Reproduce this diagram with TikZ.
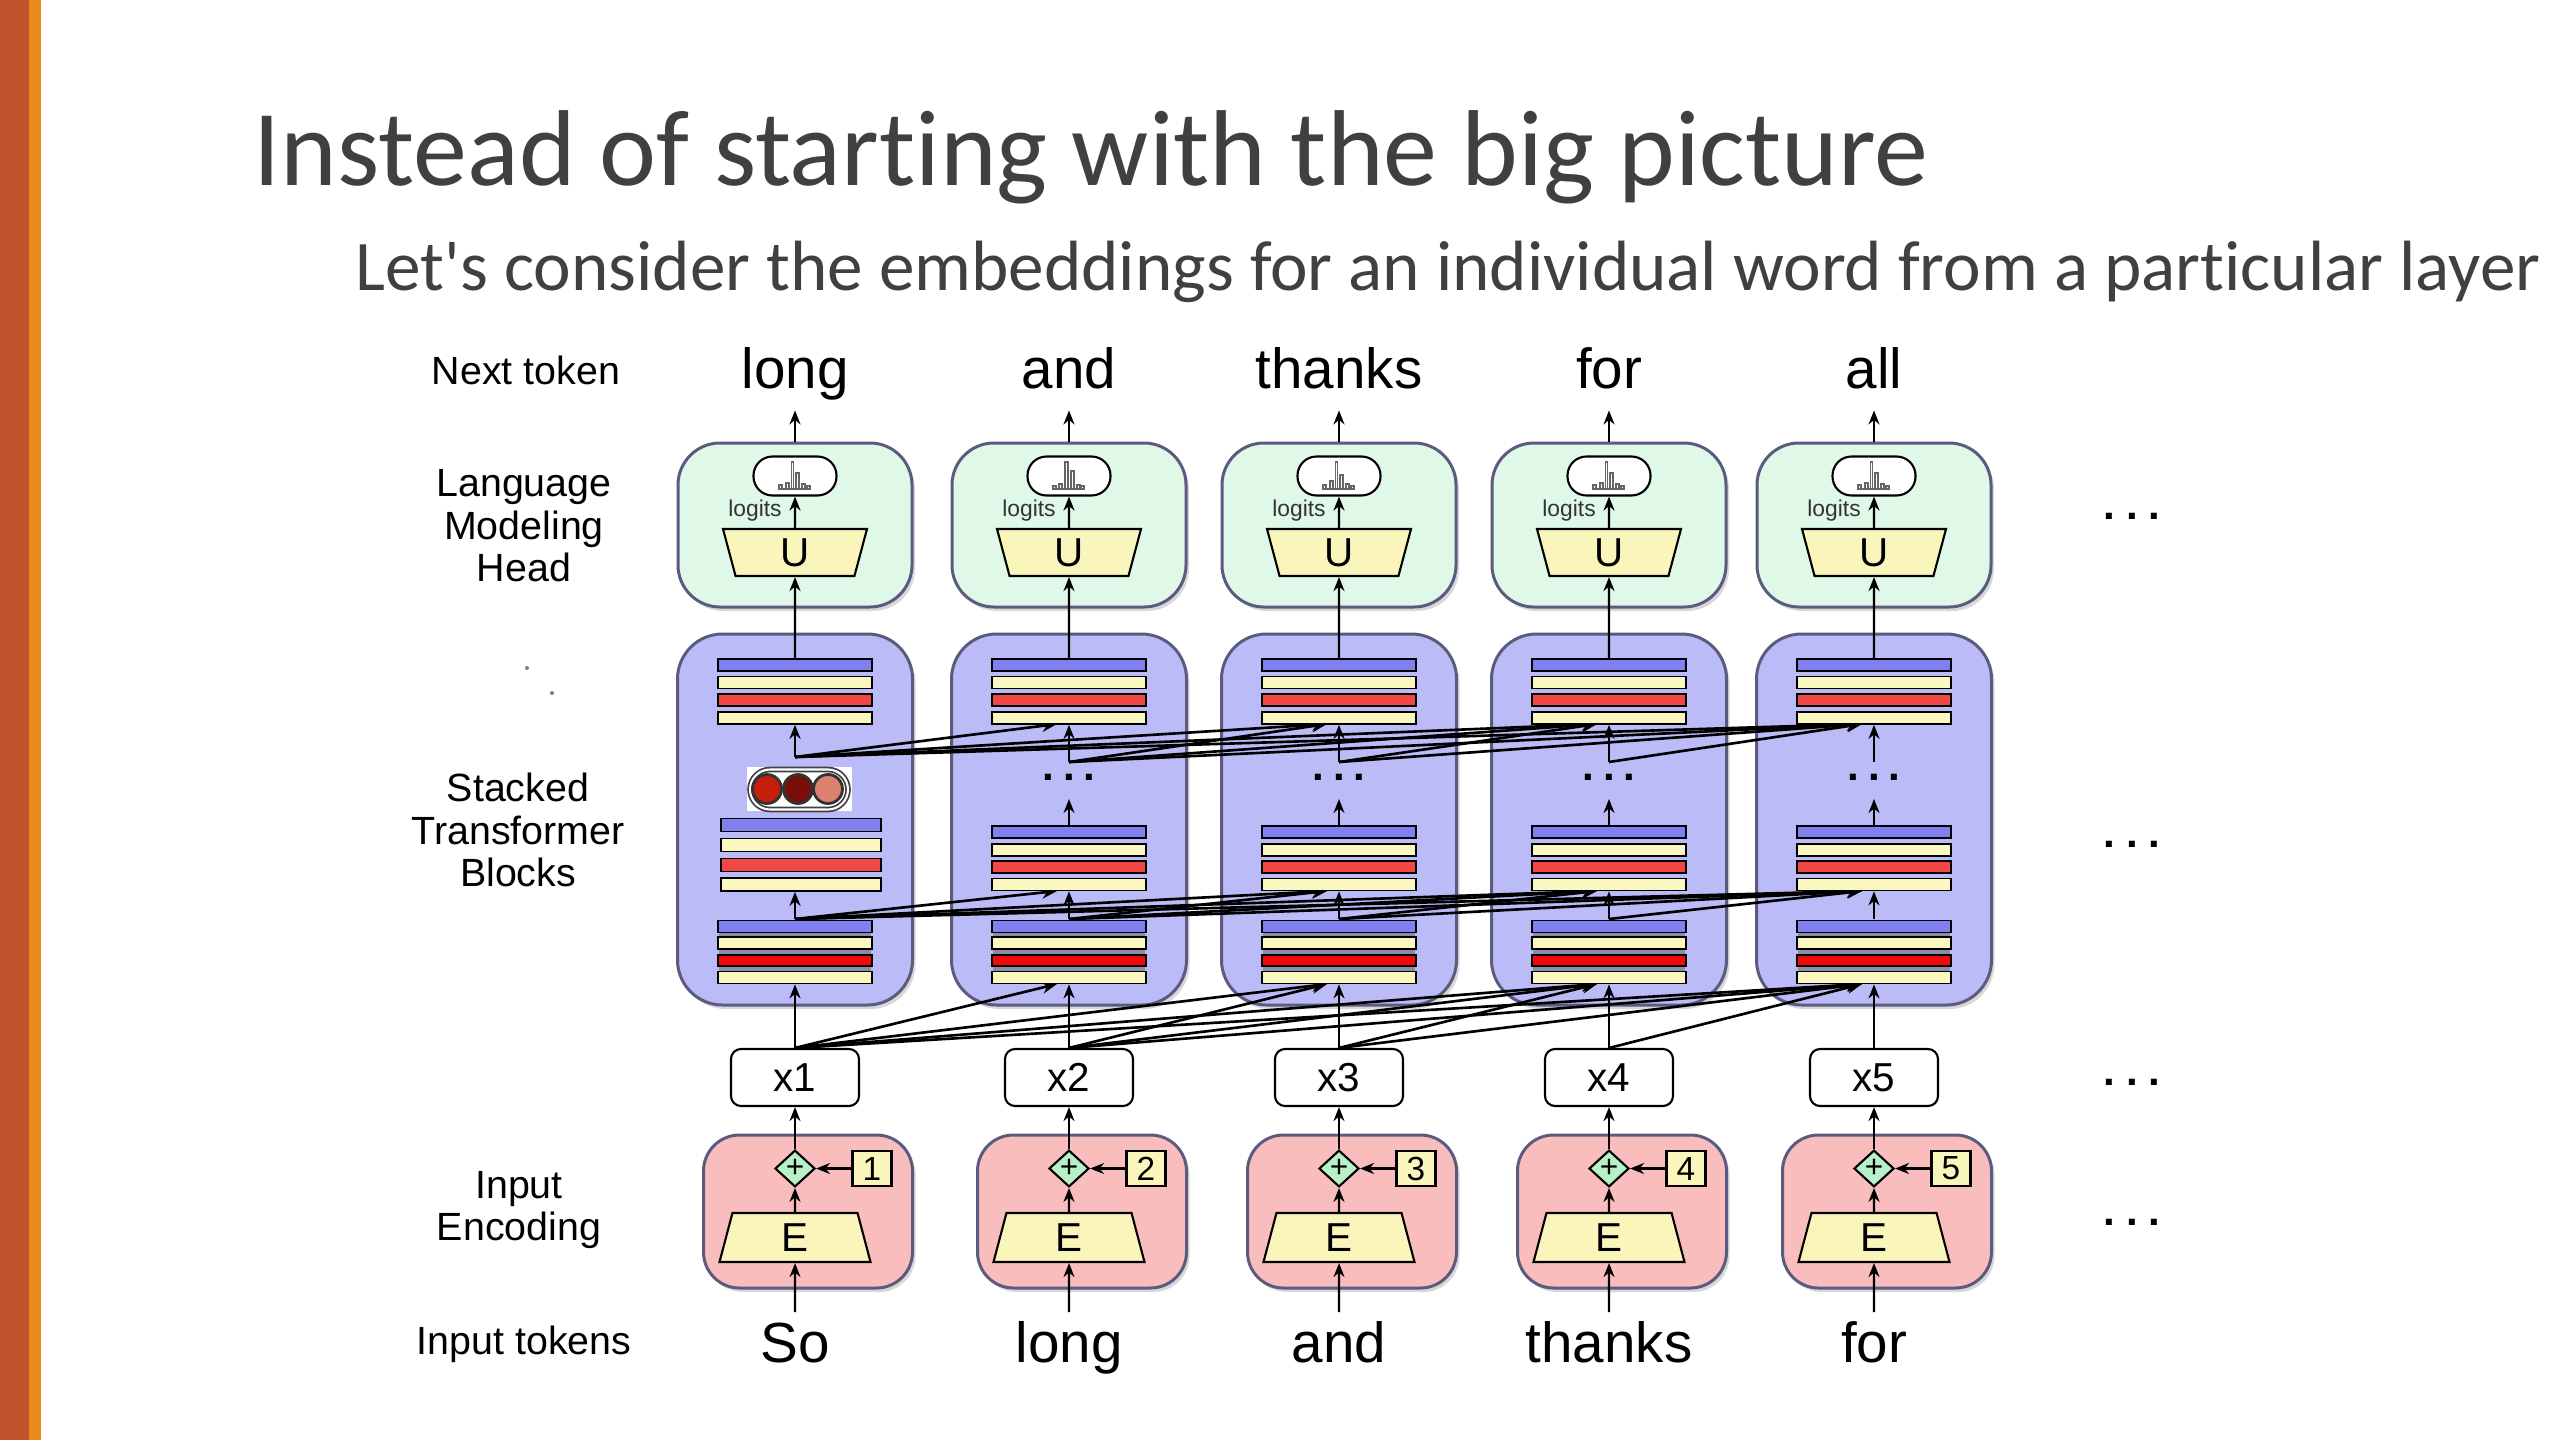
\documentclass[tikz,border=0pt]{standalone}
\usepackage{fontspec}
\setmainfont{Liberation Sans}
\newfontfamily\slidefont[Ligatures=NoCommon]{Carlito}
\usetikzlibrary{backgrounds,shapes.geometric,shadows,arrows.meta}
\pgfdeclarelayer{boxlayer}
\pgfdeclarelayer{edgelayer}
\pgfdeclarelayer{nodelayer}
\pgfsetlayers{boxlayer,edgelayer,nodelayer,main}
\definecolor{slidegrey}{HTML}{404040}
\definecolor{barrust}{HTML}{C0532B}
\definecolor{barorange}{HTML}{E98A1B}
\definecolor{headgreen}{HTML}{DFF8E7}
\definecolor{stackblue}{HTML}{BBBBF8}
\definecolor{inpink}{HTML}{F9BDBD}
\definecolor{boxedge}{HTML}{5B5B80}
\definecolor{barblue}{HTML}{8080F0}
\definecolor{baryellow}{HTML}{FAF7C0}
\definecolor{barred}{HTML}{F24747}
\definecolor{bardeepred}{HTML}{F00A0A}
\definecolor{bargrey}{HTML}{8C8CA8}
\definecolor{trapyellow}{HTML}{FAF6BB}
\definecolor{addgreen}{HTML}{B8F0C8}
\definecolor{circred}{HTML}{C81E0E}
\definecolor{circdark}{HTML}{7A0E08}
\definecolor{circpale}{HTML}{DB8370}
\tikzstyle{none}=[inner sep=0pt]
\tikzstyle{slidetitle}=[inner sep=0pt, text=slidegrey, font=\slidefont\fontsize{30.7}{34}\selectfont]
\tikzstyle{subtitle}=[inner sep=0pt, text=slidegrey, font=\slidefont\fontsize{20.25}{24}\selectfont]
\tikzstyle{rowlabel}=[inner sep=0pt, align=center, font=\fontsize{11.2}{12.1}\selectfont]
\tikzstyle{token}=[inner sep=0pt, font=\fontsize{16.1}{18}\selectfont]
\tikzstyle{ellip}=[inner sep=0pt, font=\bfseries\fontsize{12}{12}\selectfont]
\tikzstyle{speck}=[circle, fill=gray, inner sep=0pt, minimum size=0.04cm]
\tikzstyle{shade}=[drop shadow={shadow xshift=0.03cm, shadow yshift=-0.04cm, opacity=0.3}]
\tikzstyle{headbox}=[rectangle, rounded corners=0.42cm, draw=boxedge, line width=0.85pt, fill=headgreen, minimum width=2.34cm, minimum height=1.64cm, shade]
\tikzstyle{stackbox}=[rectangle, rounded corners=0.45cm, draw=boxedge, line width=0.85pt, fill=stackblue, minimum width=2.35cm, minimum height=3.71cm, shade]
\tikzstyle{inbox}=[rectangle, rounded corners=0.36cm, draw=boxedge, line width=0.85pt, fill=inpink, minimum width=2.09cm, minimum height=1.53cm, shade]
\tikzstyle{pill}=[rectangle, rounded corners=0.19cm, draw=black, line width=0.6pt, fill=white, minimum width=0.83cm, minimum height=0.39cm]
\tikzstyle{histo}=[draw=black!60, line width=0.3pt]
\tikzstyle{logits}=[inner sep=0pt, text=black!80, font=\fontsize{6.5}{7}\selectfont]
\tikzstyle{unembed}=[trapezium, trapezium stretches body, trapezium angle=66, shape border rotate=180, draw=black, line width=0.6pt, fill=trapyellow, inner sep=0pt, minimum width=1.44cm, minimum height=0.47cm, font=\fontsize{11.5}{11.5}\selectfont]
\tikzstyle{embed}=[trapezium, trapezium stretches body, trapezium angle=65, draw=black, line width=0.6pt, fill=trapyellow, inner sep=0pt, minimum width=1.51cm, minimum height=0.49cm, font=\fontsize{11.5}{11.5}\selectfont]
\tikzstyle{bar}=[rectangle, draw=black, line width=0.5pt, inner sep=0pt, minimum width=1.54cm, minimum height=0.12cm]
\tikzstyle{bluebar}=[bar, fill=barblue]
\tikzstyle{yellowbar}=[bar, fill=baryellow]
\tikzstyle{redbar}=[bar, fill=barred]
\tikzstyle{deepredbar}=[bar, fill=bardeepred, minimum height=0.11cm]
\tikzstyle{greybar}=[rectangle, fill=bargrey, inner sep=0pt, minimum width=1.52cm, minimum height=0.6cm]
\tikzstyle{widebar}=[minimum width=1.6cm, minimum height=0.13cm]
\tikzstyle{circbg}=[rectangle, fill=white, inner sep=0pt, minimum width=1.05cm, minimum height=0.44cm]
\tikzstyle{circpill}=[rectangle, rounded corners=0.2cm, draw=black!75, double=white, double distance=0.6pt, line width=0.5pt, inner sep=0pt, minimum width=0.98cm, minimum height=0.40cm]
\tikzstyle{circa}=[circle, draw=black!80, line width=0.8pt, fill=circred, inner sep=0pt, minimum size=0.29cm]
\tikzstyle{circb}=[circa, fill=circdark]
\tikzstyle{circc}=[circa, fill=circpale]
\tikzstyle{xbox}=[rectangle, rounded corners=0.1cm, draw=black, line width=0.6pt, fill=white, minimum width=1.28cm, minimum height=0.57cm, font=\fontsize{11.5}{11.5}\selectfont]
\tikzstyle{addnode}=[diamond, draw=black, line width=0.6pt, fill=addgreen, inner sep=0pt, minimum width=0.40cm, minimum height=0.33cm, font=\fontsize{9}{9}\selectfont]
\tikzstyle{posbox}=[rectangle, draw=black, line width=0.6pt, fill=trapyellow, inner sep=0pt, minimum width=0.39cm, minimum height=0.35cm, font=\fontsize{9.5}{9.5}\selectfont]
\tikzstyle{flow}=[-{Stealth[length=1.4mm, width=1.1mm]}, line width=0.6pt]
\tikzstyle{attn}=[-{Stealth[length=1.5mm, width=1.2mm]}, line width=0.75pt]

\begin{document}
\begin{tikzpicture}
	\useasboundingbox (0, 0) rectangle (25.6, -14.4);
	\begin{pgfonlayer}{boxlayer}
		\fill [white] (0, 0) rectangle (25.6, -14.4);
		\fill [barrust] (0, 0) rectangle (0.29, -14.4);
		\fill [barorange] (0.29, 0) rectangle (0.41, -14.4);
		\node [style=headbox] (102) at (7.95, -5.25) {};
		\node [style=headbox] (202) at (10.69, -5.25) {};
		\node [style=headbox] (302) at (13.39, -5.25) {};
		\node [style=headbox] (402) at (16.09, -5.25) {};
		\node [style=headbox] (502) at (18.74, -5.25) {};
		\node [style=stackbox] (106) at (7.95, -8.195) {};
		\node [style=stackbox] (206) at (10.69, -8.195) {};
		\node [style=stackbox] (306) at (13.39, -8.195) {};
		\node [style=stackbox] (406) at (16.09, -8.195) {};
		\node [style=stackbox] (506) at (18.74, -8.195) {};
		\node [style=inbox] (125) at (8.08, -12.115) {};
		\node [style=inbox] (225) at (10.82, -12.115) {};
		\node [style=inbox] (325) at (13.52, -12.115) {};
		\node [style=inbox] (425) at (16.22, -12.115) {};
		\node [style=inbox] (525) at (18.87, -12.115) {};
	\end{pgfonlayer}
	\begin{pgfonlayer}{nodelayer}
		\node [style=slidetitle, anchor=base west] (0) at (2.53, -1.85) {Instead of starting with the big picture};
		\node [style=subtitle, anchor=base west] (1) at (3.55, -2.9) {Let's consider the embeddings for an individual word from a particular layer};
		\node [style=rowlabel] (2) at (5.26, -3.7) {Next token};
		\node [style=rowlabel] (3) at (5.24, -5.26) {Language\\Modeling\\Head};
		\node [style=rowlabel] (4) at (5.18, -8.3) {Stacked\\Transformer\\Blocks};
		\node [style=rowlabel] (5) at (5.19, -12.1) {Input\\Encoding};
		\node [style=rowlabel] (6) at (5.24, -13.44) {Input tokens};
		\node [style=speck] (7) at (5.27, -6.68) {};
		\node [style=speck] (8) at (5.52, -6.93) {};
		\node [style=ellip, anchor=base] (9) at (21.32, -5.19) {.\hspace{1.1mm}.\hspace{1.1mm}.};
		\node [style=ellip, anchor=base] (10) at (21.32, -8.47) {.\hspace{1.1mm}.\hspace{1.1mm}.};
		\node [style=ellip, anchor=base] (11) at (21.32, -10.85) {.\hspace{1.1mm}.\hspace{1.1mm}.};
		\node [style=ellip, anchor=base] (12) at (21.32, -12.25) {.\hspace{1.1mm}.\hspace{1.1mm}.};

		\node [style=token, anchor=base] (100) at (7.95, -3.88) {long};
		\node [style=none] (101) at (7.95, -4.08) {};
		\node [style=pill] (103) at (7.95, -4.76) {};
		\node [style=logits] (104) at (7.55, -5.11) {logits};
		\node [style=unembed] (105) at (7.95, -5.525) {U};
		\node [style=bluebar] (107) at (7.95, -6.65) {};
		\node [style=yellowbar] (108) at (7.95, -6.825) {};
		\node [style=redbar] (109) at (7.95, -7) {};
		\node [style=yellowbar] (110) at (7.95, -7.18) {};
		\node [style=bluebar, style=widebar] (111) at (8.01, -8.25) {};
		\node [style=yellowbar, style=widebar] (112) at (8.01, -8.45) {};
		\node [style=redbar, style=widebar] (113) at (8.01, -8.65) {};
		\node [style=yellowbar, style=widebar] (114) at (8.01, -8.845) {};
		\node [style=greybar] (115) at (7.95, -9.525) {};
		\node [style=bluebar] (116) at (7.95, -9.265) {};
		\node [style=yellowbar] (117) at (7.95, -9.43) {};
		\node [style=deepredbar] (118) at (7.95, -9.605) {};
		\node [style=yellowbar] (119) at (7.95, -9.775) {};
		\node [style=none] (120) at (7.95, -7.57) {};
		\node [style=circbg] (121) at (7.995, -7.89) {};
		\node [style=circpill] (134) at (7.99, -7.895) {};
		\node [style=circa] (135) at (7.67, -7.89) {};
		\node [style=circb] (136) at (7.98, -7.89) {};
		\node [style=circc] (137) at (8.28, -7.89) {};
		\node [style=none] (123) at (7.95, -9.19) {};
		\node [style=xbox] (124) at (7.95, -10.775) {x1};
		\node [style=addnode] (126) at (7.95, -11.685) {+};
		\node [style=posbox] (127) at (8.72, -11.685) {1};
		\node [style=embed] (128) at (7.95, -12.375) {E};
		\node [style=token, anchor=base] (129) at (7.95, -13.62) {So};
		\node [style=none] (130) at (7.95, -13.12) {};

		\node [style=token, anchor=base] (200) at (10.69, -3.88) {and};
		\node [style=none] (201) at (10.69, -4.08) {};
		\node [style=pill] (203) at (10.69, -4.76) {};
		\node [style=logits] (204) at (10.29, -5.11) {logits};
		\node [style=unembed] (205) at (10.69, -5.525) {U};
		\node [style=bluebar] (207) at (10.69, -6.65) {};
		\node [style=yellowbar] (208) at (10.69, -6.825) {};
		\node [style=redbar] (209) at (10.69, -7) {};
		\node [style=yellowbar] (210) at (10.69, -7.18) {};
		\node [style=bluebar] (211) at (10.69, -8.32) {};
		\node [style=yellowbar] (212) at (10.69, -8.5) {};
		\node [style=redbar] (213) at (10.69, -8.67) {};
		\node [style=yellowbar] (214) at (10.69, -8.845) {};
		\node [style=greybar] (215) at (10.69, -9.525) {};
		\node [style=bluebar] (216) at (10.69, -9.265) {};
		\node [style=yellowbar] (217) at (10.69, -9.43) {};
		\node [style=deepredbar] (218) at (10.69, -9.605) {};
		\node [style=yellowbar] (219) at (10.69, -9.775) {};
		\node [style=none] (220) at (10.69, -7.62) {};
		\node [style=ellip, anchor=base] (221) at (10.69, -7.8) {.\hspace{0.9mm}.\hspace{0.9mm}.};
		\node [style=none] (222) at (10.69, -7.99) {};
		\node [style=none] (223) at (10.69, -9.19) {};
		\node [style=xbox] (224) at (10.69, -10.775) {x2};
		\node [style=addnode] (226) at (10.69, -11.685) {+};
		\node [style=posbox] (227) at (11.46, -11.685) {2};
		\node [style=embed] (228) at (10.69, -12.375) {E};
		\node [style=token, anchor=base] (229) at (10.69, -13.62) {long};
		\node [style=none] (230) at (10.69, -13.12) {};
		\node [style=none] (231) at (10.57, -9.84) {};
		\node [style=none] (232) at (10.57, -8.91) {};
		\node [style=none] (233) at (10.57, -7.24) {};

		\node [style=token, anchor=base] (300) at (13.39, -3.88) {thanks};
		\node [style=none] (301) at (13.39, -4.08) {};
		\node [style=pill] (303) at (13.39, -4.76) {};
		\node [style=logits] (304) at (12.99, -5.11) {logits};
		\node [style=unembed] (305) at (13.39, -5.525) {U};
		\node [style=bluebar] (307) at (13.39, -6.65) {};
		\node [style=yellowbar] (308) at (13.39, -6.825) {};
		\node [style=redbar] (309) at (13.39, -7) {};
		\node [style=yellowbar] (310) at (13.39, -7.18) {};
		\node [style=bluebar] (311) at (13.39, -8.32) {};
		\node [style=yellowbar] (312) at (13.39, -8.5) {};
		\node [style=redbar] (313) at (13.39, -8.67) {};
		\node [style=yellowbar] (314) at (13.39, -8.845) {};
		\node [style=greybar] (315) at (13.39, -9.525) {};
		\node [style=bluebar] (316) at (13.39, -9.265) {};
		\node [style=yellowbar] (317) at (13.39, -9.43) {};
		\node [style=deepredbar] (318) at (13.39, -9.605) {};
		\node [style=yellowbar] (319) at (13.39, -9.775) {};
		\node [style=none] (320) at (13.39, -7.62) {};
		\node [style=ellip, anchor=base] (321) at (13.39, -7.8) {.\hspace{0.9mm}.\hspace{0.9mm}.};
		\node [style=none] (322) at (13.39, -7.99) {};
		\node [style=none] (323) at (13.39, -9.19) {};
		\node [style=xbox] (324) at (13.39, -10.775) {x3};
		\node [style=addnode] (326) at (13.39, -11.685) {+};
		\node [style=posbox] (327) at (14.16, -11.685) {3};
		\node [style=embed] (328) at (13.39, -12.375) {E};
		\node [style=token, anchor=base] (329) at (13.39, -13.62) {and};
		\node [style=none] (330) at (13.39, -13.12) {};
		\node [style=none] (331) at (13.27, -9.84) {};
		\node [style=none] (332) at (13.27, -8.91) {};
		\node [style=none] (333) at (13.27, -7.24) {};

		\node [style=token, anchor=base] (400) at (16.09, -3.88) {for};
		\node [style=none] (401) at (16.09, -4.08) {};
		\node [style=pill] (403) at (16.09, -4.76) {};
		\node [style=logits] (404) at (15.69, -5.11) {logits};
		\node [style=unembed] (405) at (16.09, -5.525) {U};
		\node [style=bluebar] (407) at (16.09, -6.65) {};
		\node [style=yellowbar] (408) at (16.09, -6.825) {};
		\node [style=redbar] (409) at (16.09, -7) {};
		\node [style=yellowbar] (410) at (16.09, -7.18) {};
		\node [style=bluebar] (411) at (16.09, -8.32) {};
		\node [style=yellowbar] (412) at (16.09, -8.5) {};
		\node [style=redbar] (413) at (16.09, -8.67) {};
		\node [style=yellowbar] (414) at (16.09, -8.845) {};
		\node [style=greybar] (415) at (16.09, -9.525) {};
		\node [style=bluebar] (416) at (16.09, -9.265) {};
		\node [style=yellowbar] (417) at (16.09, -9.43) {};
		\node [style=deepredbar] (418) at (16.09, -9.605) {};
		\node [style=yellowbar] (419) at (16.09, -9.775) {};
		\node [style=none] (420) at (16.09, -7.62) {};
		\node [style=ellip, anchor=base] (421) at (16.09, -7.8) {.\hspace{0.9mm}.\hspace{0.9mm}.};
		\node [style=none] (422) at (16.09, -7.99) {};
		\node [style=none] (423) at (16.09, -9.19) {};
		\node [style=xbox] (424) at (16.09, -10.775) {x4};
		\node [style=addnode] (426) at (16.09, -11.685) {+};
		\node [style=posbox] (427) at (16.86, -11.685) {4};
		\node [style=embed] (428) at (16.09, -12.375) {E};
		\node [style=token, anchor=base] (429) at (16.09, -13.62) {thanks};
		\node [style=none] (430) at (16.09, -13.12) {};
		\node [style=none] (431) at (15.97, -9.84) {};
		\node [style=none] (432) at (15.97, -8.91) {};
		\node [style=none] (433) at (15.97, -7.24) {};

		\node [style=token, anchor=base] (500) at (18.74, -3.88) {all};
		\node [style=none] (501) at (18.74, -4.08) {};
		\node [style=pill] (503) at (18.74, -4.76) {};
		\node [style=logits] (504) at (18.34, -5.11) {logits};
		\node [style=unembed] (505) at (18.74, -5.525) {U};
		\node [style=bluebar] (507) at (18.74, -6.65) {};
		\node [style=yellowbar] (508) at (18.74, -6.825) {};
		\node [style=redbar] (509) at (18.74, -7) {};
		\node [style=yellowbar] (510) at (18.74, -7.18) {};
		\node [style=bluebar] (511) at (18.74, -8.32) {};
		\node [style=yellowbar] (512) at (18.74, -8.5) {};
		\node [style=redbar] (513) at (18.74, -8.67) {};
		\node [style=yellowbar] (514) at (18.74, -8.845) {};
		\node [style=greybar] (515) at (18.74, -9.525) {};
		\node [style=bluebar] (516) at (18.74, -9.265) {};
		\node [style=yellowbar] (517) at (18.74, -9.43) {};
		\node [style=deepredbar] (518) at (18.74, -9.605) {};
		\node [style=yellowbar] (519) at (18.74, -9.775) {};
		\node [style=none] (520) at (18.74, -7.62) {};
		\node [style=ellip, anchor=base] (521) at (18.74, -7.8) {.\hspace{0.9mm}.\hspace{0.9mm}.};
		\node [style=none] (522) at (18.74, -7.99) {};
		\node [style=none] (523) at (18.74, -9.19) {};
		\node [style=xbox] (524) at (18.74, -10.775) {x5};
		\node [style=addnode] (526) at (18.74, -11.685) {+};
		\node [style=posbox] (527) at (19.51, -11.685) {5};
		\node [style=embed] (528) at (18.74, -12.375) {E};
		\node [style=token, anchor=base] (529) at (18.74, -13.62) {for};
		\node [style=none] (530) at (18.74, -13.12) {};
		\node [style=none] (531) at (18.62, -9.84) {};
		\node [style=none] (532) at (18.62, -8.91) {};
		\node [style=none] (533) at (18.62, -7.24) {};

		% little logit histograms
		\draw [style=histo, shift={(7.95, -4.76)}] (-0.17, -0.13) -- (0.16, -0.13) (-0.16, -0.13) -- (-0.16, -0.09) -- (-0.13, -0.09) -- (-0.13, -0.13) (-0.09, -0.13) -- (-0.09, -0.07) -- (-0.06, -0.07) -- (-0.06, -0.13) (-0.035, -0.13) -- (-0.035, 0.14) -- (-0.015, 0.14) -- (-0.015, -0.13) (0.01, -0.13) -- (0.01, 0.03) -- (0.04, 0.03) -- (0.04, -0.13) (0.07, -0.13) -- (0.07, -0.08) -- (0.1, -0.08) -- (0.1, -0.13) (0.12, -0.13) -- (0.12, -0.1) -- (0.15, -0.1) -- (0.15, -0.13);
		\draw [style=histo, shift={(10.69, -4.76)}] (-0.17, -0.13) -- (0.16, -0.13) (-0.16, -0.13) -- (-0.16, -0.1) -- (-0.13, -0.1) -- (-0.13, -0.13) (-0.1, -0.13) -- (-0.1, -0.08) -- (-0.07, -0.08) -- (-0.07, -0.13) (-0.04, -0.13) -- (-0.04, 0.14) -- (-0.01, 0.14) -- (-0.01, -0.13) (0.02, -0.13) -- (0.02, 0.05) -- (0.05, 0.05) -- (0.05, -0.13) (0.08, -0.13) -- (0.08, -0.09) -- (0.11, -0.09) -- (0.11, -0.13) (0.12, -0.13) -- (0.12, -0.1) -- (0.15, -0.1) -- (0.15, -0.13);
		\draw [style=histo, shift={(13.39, -4.76)}] (-0.17, -0.13) -- (0.16, -0.13) (-0.16, -0.13) -- (-0.16, -0.09) -- (-0.13, -0.09) -- (-0.13, -0.13) (-0.09, -0.13) -- (-0.09, -0.05) -- (-0.06, -0.05) -- (-0.06, -0.13) (-0.035, -0.13) -- (-0.035, 0.14) -- (-0.015, 0.14) -- (-0.015, -0.13) (0.01, -0.13) -- (0.01, 0.01) -- (0.04, 0.01) -- (0.04, -0.13) (0.07, -0.13) -- (0.07, -0.08) -- (0.1, -0.08) -- (0.1, -0.13) (0.12, -0.13) -- (0.12, -0.1) -- (0.15, -0.1) -- (0.15, -0.13);
		\draw [style=histo, shift={(16.09, -4.76)}] (-0.17, -0.13) -- (0.16, -0.13) (-0.16, -0.13) -- (-0.16, -0.09) -- (-0.13, -0.09) -- (-0.13, -0.13) (-0.09, -0.13) -- (-0.09, -0.07) -- (-0.06, -0.07) -- (-0.06, -0.13) (-0.035, -0.13) -- (-0.035, 0.14) -- (-0.015, 0.14) -- (-0.015, -0.13) (0.01, -0.13) -- (0.01, 0.03) -- (0.04, 0.03) -- (0.04, -0.13) (0.07, -0.13) -- (0.07, -0.08) -- (0.1, -0.08) -- (0.1, -0.13) (0.12, -0.13) -- (0.12, -0.1) -- (0.15, -0.1) -- (0.15, -0.13);
		\draw [style=histo, shift={(18.74, -4.76)}] (-0.17, -0.13) -- (0.16, -0.13) (-0.16, -0.13) -- (-0.16, -0.09) -- (-0.13, -0.09) -- (-0.13, -0.13) (-0.09, -0.13) -- (-0.09, -0.07) -- (-0.06, -0.07) -- (-0.06, -0.13) (-0.035, -0.13) -- (-0.035, 0.14) -- (-0.015, 0.14) -- (-0.015, -0.13) (0.01, -0.13) -- (0.01, 0.03) -- (0.04, 0.03) -- (0.04, -0.13) (0.07, -0.13) -- (0.07, -0.08) -- (0.1, -0.08) -- (0.1, -0.13) (0.12, -0.13) -- (0.12, -0.1) -- (0.15, -0.1) -- (0.15, -0.13);
	\end{pgfonlayer}
	\begin{pgfonlayer}{edgelayer}
		\draw [style=flow] (102) to (101);
		\draw [style=flow] (105) to (103);
		\draw [style=flow] (107) to (105);
		\draw [style=flow] (120.center) to (110);
		\draw [style=flow] (123.center) to (123 |- 114.south);
		\draw [style=flow] (124) to (119);
		\draw [style=flow] (126) to (124);
		\draw [style=flow] (127) to (126);
		\draw [style=flow] (128) to (126);
		\draw [style=flow] (130.center) to (128);

		\draw [style=flow] (202) to (201);
		\draw [style=flow] (205) to (203);
		\draw [style=flow] (207) to (205);
		\draw [style=flow] (220.center) to (210);
		\draw [style=flow] (211) to (222.center);
		\draw [style=flow] (223.center) to (214);
		\draw [style=flow] (224) to (219);
		\draw [style=flow] (226) to (224);
		\draw [style=flow] (227) to (226);
		\draw [style=flow] (228) to (226);
		\draw [style=flow] (230.center) to (228);

		\draw [style=flow] (302) to (301);
		\draw [style=flow] (305) to (303);
		\draw [style=flow] (307) to (305);
		\draw [style=flow] (320.center) to (310);
		\draw [style=flow] (311) to (322.center);
		\draw [style=flow] (323.center) to (314);
		\draw [style=flow] (324) to (319);
		\draw [style=flow] (326) to (324);
		\draw [style=flow] (327) to (326);
		\draw [style=flow] (328) to (326);
		\draw [style=flow] (330.center) to (328);

		\draw [style=flow] (402) to (401);
		\draw [style=flow] (405) to (403);
		\draw [style=flow] (407) to (405);
		\draw [style=flow] (420.center) to (410);
		\draw [style=flow] (411) to (422.center);
		\draw [style=flow] (423.center) to (414);
		\draw [style=flow] (424) to (419);
		\draw [style=flow] (426) to (424);
		\draw [style=flow] (427) to (426);
		\draw [style=flow] (428) to (426);
		\draw [style=flow] (430.center) to (428);

		\draw [style=flow] (502) to (501);
		\draw [style=flow] (505) to (503);
		\draw [style=flow] (507) to (505);
		\draw [style=flow] (520.center) to (510);
		\draw [style=flow] (511) to (522.center);
		\draw [style=flow] (523.center) to (514);
		\draw [style=flow] (524) to (519);
		\draw [style=flow] (526) to (524);
		\draw [style=flow] (527) to (526);
		\draw [style=flow] (528) to (526);
		\draw [style=flow] (530.center) to (528);

		% attention from the inputs
		\draw [style=attn] (124.north) to (231.center);
		\draw [style=attn] (124.north) to (331.center);
		\draw [style=attn] (124.north) to (431.center);
		\draw [style=attn] (124.north) to (531.center);
		\draw [style=attn] (224.north) to (331.center);
		\draw [style=attn] (224.north) to (431.center);
		\draw [style=attn] (224.north) to (531.center);
		\draw [style=attn] (324.north) to (431.center);
		\draw [style=attn] (324.north) to (531.center);
		\draw [style=attn] (424.north) to (531.center);

		% attention between the first blocks
		\draw [style=attn] (123.center) to (232.center);
		\draw [style=attn] (123.center) to (332.center);
		\draw [style=attn] (123.center) to (432.center);
		\draw [style=attn] (123.center) to (532.center);
		\draw [style=attn] (223.center) to (332.center);
		\draw [style=attn] (223.center) to (432.center);
		\draw [style=attn] (223.center) to (532.center);
		\draw [style=attn] (323.center) to (432.center);
		\draw [style=attn] (323.center) to (532.center);
		\draw [style=attn] (423.center) to (532.center);

		% attention into the last blocks
		\draw [style=attn] (120.center) to (233.center);
		\draw [style=attn] (120.center) to (333.center);
		\draw [style=attn] (120.center) to (433.center);
		\draw [style=attn] (120.center) to (533.center);
		\draw [style=attn] (220.center) to (333.center);
		\draw [style=attn] (220.center) to (433.center);
		\draw [style=attn] (220.center) to (533.center);
		\draw [style=attn] (320.center) to (433.center);
		\draw [style=attn] (320.center) to (533.center);
		\draw [style=attn] (420.center) to (533.center);
	\end{pgfonlayer}
\end{tikzpicture}
\end{document}
